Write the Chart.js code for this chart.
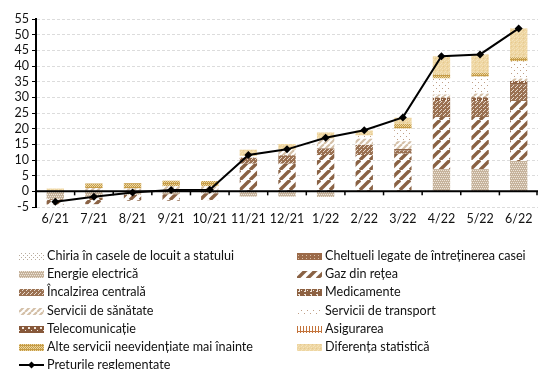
<!DOCTYPE html>
<html>
<head>
<meta charset="utf-8">
<script src="https://cdn.jsdelivr.net/npm/chart.js@4/dist/chart.umd.min.js"></script>
<style>
  html, body { margin: 0; padding: 0; background: #fff; }
  #wrap { position: relative; width: 542px; height: 369px; overflow: hidden; font-family: Lato, "Open Sans", sans-serif; }
  #c { position: absolute; left: 0; top: 0; }
  #legend { position: absolute; left: 0; top: 0; width: 542px; height: 369px; }
  .item { position: absolute; display: flex; align-items: center; font-size: 12.6px; color: #111; white-space: nowrap; height: 16px; line-height: 16px; }
  .item canvas { margin-right: 3px; }
</style>
</head>
<body>
<div id="wrap">
  <canvas id="c" width="542" height="236"></canvas>
  <div id="legend"></div>
</div>
<script>
// Contributions to the annual change, percentage points
const months = ['6/21', '7/21', '8/21', '9/21', '10/21', '11/21', '12/21', '1/22', '2/22', '3/22', '4/22', '5/22', '6/22'];

const chiria      = [0, 0, 0, 0, 0, 0, 0, 0, 0, 0, 0, 0, 0];
const cheltuieli  = [0, 0, 0, 0, 0, 0, 0, 0, 0, 0, 0.3, 0.3, 0.3];
const energie     = [-2.5, -2.0, -1.1, -0.9, -0.6, -1.7, -1.7, -1.8, 0, 0, 6.8, 6.8, 9.4];
const gaz         = [-1.7, -2.1, -1.9, -2.1, -2.2, 8.8, 8.8, 11.6, 11.6, 12.0, 16.6, 16.6, 19.1];
const incalzirea  = [0, 0, 0, 0, 0, 1.9, 2.7, 2.1, 3.2, 1.0, 5.1, 5.1, 5.4];
const medicamente = [0, 0, 0, 0, 0, 0, 0, 0, 0, 0.5, 1.1, 1.2, 1.0];
const sanatate    = [0, 1.0, 0.9, 1.6, 1.6, 0, 1.8, 3.1, 2.0, 2.5, 1.0, 1.2, 0.8];
const transport   = [0, 0, 0, 0, 0, 0.6, 0, 0, 1.0, 4.0, 5.1, 5.4, 5.5];
const telecom     = [0, 0, 0, 0, 0, 0, 0, 0, 0, 0, 0, 0, 0];
const asigurarea  = [0, 0, 0, 0, 0, 0, 0, 0, 0, 0, 0, 0, 0];
const alte        = [0, 1.5, 1.7, 1.8, 1.7, 0, 0, 0, 0, 1.5, 1.3, 1.3, 1.3];
const diferenta   = [0.9, 0, 0, 0, 0, 2.0, 1.8, 2.0, 1.6, 2.0, 5.8, 5.8, 9.2];
const preturi     = [-3.3, -1.7, -0.4, 0.4, 0.5, 11.6, 13.4, 17.1, 19.5, 23.6, 43.1, 43.7, 52.0];

const yTicks = { min: -5, max: 55, step: 5 };

// ---- fill patterns ----
function tile(w, h, draw) {
  const c = document.createElement('canvas');
  c.width = w; c.height = h;
  const g = c.getContext('2d');
  draw(g, w, h);
  return c;
}
function dots(g, color, pts) {
  g.fillStyle = color;
  pts.forEach(([x, y, w = 1, h = 1]) => g.fillRect(x, y, w, h));
}
function stripes(g, w, h, color, lw) {
  g.strokeStyle = color; g.lineWidth = lw;
  for (let k = -1; k <= 1; k++) {
    g.beginPath();
    g.moveTo(k * w, h); g.lineTo(k * w + w, 0);
    g.stroke();
  }
}

const tiles = {
  chiria: tile(4, 4, (g, w, h) => { g.fillStyle = '#fff'; g.fillRect(0, 0, w, h); dots(g, '#b8ab9c', [[0, 0], [2, 2]]); }),
  cheltuieli: tile(4, 3, (g, w, h) => { g.fillStyle = '#9b6a49'; g.fillRect(0, 0, w, h); dots(g, '#d9bea7', [[1, 1]]); }),
  energie: tile(4, 4, (g, w, h) => { g.fillStyle = '#c6b39c'; g.fillRect(0, 0, w, h); dots(g, '#eee6db', [[0, 0], [2, 0], [1, 2], [3, 2]]); }),
  gaz: tile(10, 10, (g, w, h) => { g.fillStyle = '#fff'; g.fillRect(0, 0, w, h); stripes(g, w, h, '#8a6244', 3.4); }),
  incalzirea: tile(4, 4, (g, w, h) => { g.fillStyle = '#9a7152'; g.fillRect(0, 0, w, h); dots(g, '#e8dacd', [[1, 1], [3, 3], [0, 2]]); }),
  medicamente: tile(6, 6, (g, w, h) => { g.fillStyle = '#8d6142'; g.fillRect(0, 0, w, h); dots(g, '#f1e7dd', [[1, 1, 2, 1], [2, 2, 1, 2], [1, 4, 2, 1], [4, 3]]); }),
  sanatate: tile(6, 6, (g, w, h) => { g.fillStyle = '#fff'; g.fillRect(0, 0, w, h); stripes(g, w, h, '#d4c0a8', 2.2); }),
  transport: tile(6, 6, (g, w, h) => { g.fillStyle = '#fff'; g.fillRect(0, 0, w, h); dots(g, '#bf9f86', [[1, 1], [4, 4]]); }),
  telecom: tile(6, 6, (g, w, h) => { g.fillStyle = '#87583a'; g.fillRect(0, 0, w, h); dots(g, '#f3e9df', [[3, 3, 2, 2], [0, 0, 1, 1]]); }),
  asigurarea: tile(3, 6, (g, w, h) => { g.fillStyle = '#fff'; g.fillRect(0, 0, w, h); dots(g, '#c4743c', [[0, 0, 1, 6], [0, 1, 3, 1]]); }),
  alte: tile(4, 4, (g, w, h) => { g.fillStyle = '#c69c47'; g.fillRect(0, 0, w, h); dots(g, '#ecd7a3', [[0, 0], [2, 0], [1, 1], [3, 1], [0, 2], [2, 2]]); }),
  diferenta: tile(4, 4, (g, w, h) => { g.fillStyle = '#eed6a2'; g.fillRect(0, 0, w, h); dots(g, '#f4e2bb', [[0, 0], [2, 1], [1, 3]]); dots(g, '#e5c88f', [[3, 2]]); })
};

const ctx = document.getElementById('c').getContext('2d');
const pat = {};
Object.keys(tiles).forEach(k => { pat[k] = ctx.createPattern(tiles[k], 'repeat'); });

const series = [
  ['Chiria în casele de locuit a statului', chiria, 'chiria'],
  ['Cheltueli legate de întreținerea casei', cheltuieli, 'cheltuieli'],
  ['Energie electrică', energie, 'energie'],
  ['Gaz din rețea', gaz, 'gaz'],
  ['Încalzirea centrală', incalzirea, 'incalzirea'],
  ['Medicamente', medicamente, 'medicamente'],
  ['Servicii de sănătate', sanatate, 'sanatate'],
  ['Servicii de transport', transport, 'transport'],
  ['Telecomunicație', telecom, 'telecom'],
  ['Asigurarea', asigurarea, 'asigurarea'],
  ['Alte servicii neevidențiate mai înainte', alte, 'alte'],
  ['Diferența statistică', diferenta, 'diferenta']
];

const datasets = series.map(([label, data, key]) => ({
  type: 'bar',
  label,
  data,
  backgroundColor: pat[key],
  borderWidth: 0,
  stack: 'contrib',
  order: 2,
  categoryPercentage: 0.5,
  barPercentage: 0.9,
  patternKey: key
}));
datasets.push({
  type: 'line',
  label: 'Preturile reglementate',
  data: preturi,
  borderColor: '#000',
  backgroundColor: '#000',
  borderWidth: 2,
  pointStyle: 'rectRot',
  pointRadius: 4,
  pointHoverRadius: 4,
  pointBorderWidth: 0,
  tension: 0,
  stack: 'line',
  order: 0
});

// black zero line with small category tick marks
const zeroAxis = {
  id: 'zeroAxis',
  afterDatasetsDraw(chart) {
    const { ctx, chartArea: a, scales: { x, y } } = chart;
    const y0 = y.getPixelForValue(0);
    ctx.save();
    ctx.strokeStyle = '#000';
    ctx.lineWidth = 2;
    ctx.beginPath(); ctx.moveTo(a.left, y0); ctx.lineTo(a.right, y0); ctx.stroke();
    ctx.lineWidth = 1.5;
    const n = x.ticks.length;
    for (let i = 1; i <= n; i++) {
      const xb = i < n ? (x.getPixelForTick(i - 1) + x.getPixelForTick(i)) / 2 : a.right - 1;
      ctx.beginPath(); ctx.moveTo(xb, y0); ctx.lineTo(xb, y0 + 4); ctx.stroke();
    }
    ctx.restore();
  }
};

const font = { family: 'Lato, "Open Sans", sans-serif', size: 12.5, lineHeight: 1.2 };

new Chart(ctx, {
  data: { labels: months, datasets },
  plugins: [zeroAxis],
  options: {
    responsive: false,
    devicePixelRatio: 1,
    animation: false,
    events: [],
    layout: { padding: { top: 19, right: 2, bottom: 6, left: 0 } },
    plugins: { legend: { display: false }, tooltip: { enabled: false } },
    scales: {
      x: {
        stacked: true,
        offset: true,
        grid: { display: false, drawTicks: false },
        border: { display: false },
        ticks: { font, color: '#111', maxRotation: 0, autoSkip: false, padding: 4 }
      },
      y: {
        stacked: true,
        min: yTicks.min,
        max: yTicks.max,
        ticks: { stepSize: yTicks.step, font, color: '#111', padding: 3, autoSkip: false },
        grid: { color: '#dcdcdc', lineWidth: 1, tickColor: '#000', tickLength: 4, tickBorderDash: [] },
        border: { display: true, color: '#000', width: 2, dash: [3, 2] },
        afterFit(s) { s.width = 36; }
      }
    }
  }
});

// two-column legend under the plot
const legend = document.getElementById('legend');
datasets.forEach((d, i) => {
  const col = i % 2, row = Math.floor(i / 2);
  const item = document.createElement('div');
  item.className = 'item';
  item.style.left = (col === 0 ? 19 : 297) + 'px';
  item.style.top = (248 + row * 18.2) + 'px';
  const sw = document.createElement('canvas');
  sw.width = 25; sw.height = 10;
  const g = sw.getContext('2d');
  if (d.type === 'line') {
    g.strokeStyle = '#000'; g.lineWidth = 2;
    g.beginPath(); g.moveTo(0, 5); g.lineTo(25, 5); g.stroke();
    g.fillStyle = '#000';
    g.beginPath(); g.moveTo(12.5, 1.5); g.lineTo(16, 5); g.lineTo(12.5, 8.5); g.lineTo(9, 5); g.closePath(); g.fill();
  } else {
    g.fillStyle = g.createPattern(tiles[d.patternKey], 'repeat');
    g.fillRect(0, 2, 25, 7);
  }
  item.appendChild(sw);
  const t = document.createElement('span');
  t.textContent = d.label;
  item.appendChild(t);
  legend.appendChild(item);
});
</script>
</body>
</html>
